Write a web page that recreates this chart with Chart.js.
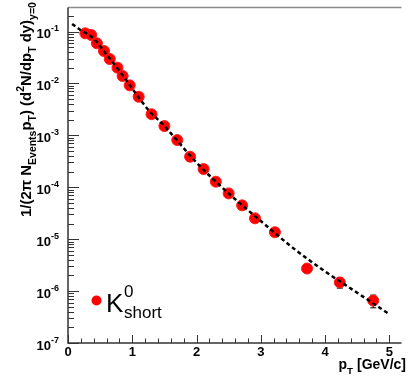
<!DOCTYPE html>
<html>
<head>
<meta charset="utf-8">
<script src="https://cdn.jsdelivr.net/npm/chart.js@4.4.0/dist/chart.umd.min.js"></script>
<style>
  body { margin: 0; background: #fff; }
  #wrap { width: 408px; height: 379px; }
</style>
</head>
<body>
<div id="wrap"><canvas id="myChart" width="408" height="379"></canvas></div>
<script>
// K0 short spectrum : points
const ptValeurs = [0.27, 0.36, 0.45, 0.56, 0.65, 0.77, 0.85, 0.96, 1.1, 1.3, 1.5, 1.7, 1.9, 2.11, 2.3, 2.5, 2.71, 2.91, 3.22, 3.72, 4.23, 4.75];
const rendement = [0.0923, 0.0857, 0.0593, 0.0421, 0.0295, 0.0201, 0.0139, 0.00918, 0.00554, 0.00255, 0.00151,
    8.11e-4, 3.87e-4, 2.24e-4, 1.28e-4, 7.62e-5, 4.48e-5, 2.52e-5, 1.36e-5, 2.72e-6, 1.47e-6, 6.56e-7];
const erreurs = [0, 0, 0, 0, 0, 0, 0, 0, 0, 0, 0, 0, 0, 0, 0, 0, 0, 0, 0, 0, 3.3e-7, 1.8e-7];

// courbe de fit (pointillés)
const fitPt = [0.064, 0.2, 0.4, 0.6, 0.8, 1.0, 1.25, 1.5, 2.0, 2.5, 3.0, 3.5, 4.0, 4.5, 5.0];
const fitY = [0.14, 0.106, 0.0728, 0.0359, 0.0175, 0.00794, 0.0031, 0.00151, 2.99e-4, 7.6e-5, 2.24e-5, 6.8e-6, 2.4e-6, 9.3e-7, 3.6e-7];

const xTicks = [0, 1, 2, 3, 4, 5];
const yExposants = [-1, -2, -3, -4, -5, -6, -7];

const police = '"Liberation Sans", Arial, sans-serif';
const couleurAxe = '#333';

// dessine une suite de morceaux de texte (normal / indice / exposant)
function largeurMorceaux(ctx, morceaux, taille) {
    let l = 0;
    morceaux.forEach(m => {
        ctx.font = 'bold ' + (m.pos ? taille * 0.7 : taille) + 'px ' + police;
        l += ctx.measureText(m.t).width;
    });
    return l;
}
function dessineMorceaux(ctx, morceaux, x, y, taille) {
    morceaux.forEach(m => {
        const t = m.pos ? taille * 0.7 : taille;
        ctx.font = 'bold ' + t + 'px ' + police;
        let dy = 0;
        if (m.pos === 'sub') dy = taille * 0.35;
        if (m.pos === 'sup') dy = -taille * 0.45;
        ctx.fillText(m.t, x, y + dy);
        x += ctx.measureText(m.t).width;
    });
}

const pluginAxes = {
    id: 'axesRoot',
    beforeDatasetsDraw(chart) {
        const ctx = chart.ctx;
        const sx = chart.scales.x, sy = chart.scales.y;
        // barres d'erreur
        ctx.save();
        ctx.strokeStyle = '#000';
        ctx.lineWidth = 1;
        for (let i = 0; i < ptValeurs.length; i++) {
            if (!erreurs[i]) continue;
            const px = sx.getPixelForValue(ptValeurs[i]);
            const haut = sy.getPixelForValue(rendement[i] + erreurs[i]);
            const bas = sy.getPixelForValue(rendement[i] - erreurs[i]);
            ctx.beginPath();
            ctx.moveTo(px, haut); ctx.lineTo(px, bas);
            ctx.moveTo(px - 3, haut); ctx.lineTo(px + 3, haut);
            ctx.moveTo(px - 3, bas); ctx.lineTo(px + 3, bas);
            ctx.stroke();
        }
        ctx.restore();
    },
    afterDraw(chart) {
        const ctx = chart.ctx;
        const a = chart.chartArea;
        const sx = chart.scales.x, sy = chart.scales.y;
        ctx.save();

        // cadre du haut (gris)
        ctx.strokeStyle = '#8a8a8a';
        ctx.lineWidth = 1.5;
        ctx.beginPath();
        ctx.moveTo(a.left, a.top); ctx.lineTo(a.right, a.top);
        ctx.stroke();

        // axes
        ctx.strokeStyle = couleurAxe;
        ctx.lineWidth = 1.5;
        ctx.beginPath();
        ctx.moveTo(a.left, a.top); ctx.lineTo(a.left, a.bottom); ctx.lineTo(a.right, a.bottom);
        ctx.stroke();

        // graduations x
        ctx.lineWidth = 1;
        ctx.beginPath();
        for (let v = 0; v <= 5.19; v += 0.2) {
            const px = Math.round(sx.getPixelForValue(v)) + 0.5;
            const majeur = Math.abs(v - Math.round(v)) < 1e-6;
            ctx.moveTo(px, a.bottom);
            ctx.lineTo(px, a.bottom - (majeur ? 8 : 4.5));
        }
        // graduations y
        for (let e = -7; e <= 0; e++) {
            for (let k = 1; k <= 9; k++) {
                const v = k * Math.pow(10, e);
                if (v < 1e-7 || v > sy.max) continue;
                const py = Math.round(sy.getPixelForValue(v)) + 0.5;
                ctx.moveTo(a.left, py);
                ctx.lineTo(a.left + (k === 1 ? 11 : 6), py);
            }
        }
        ctx.stroke();

        ctx.fillStyle = '#000';
        // étiquettes x
        ctx.font = 'bold 13px ' + police;
        ctx.textAlign = 'center';
        ctx.textBaseline = 'alphabetic';
        xTicks.forEach(v => {
            ctx.fillText(String(v), sx.getPixelForValue(v), 356);
        });

        // étiquettes y : 10^n
        ctx.textAlign = 'left';
        yExposants.forEach(e => {
            const py = sy.getPixelForValue(Math.pow(10, e));
            ctx.font = 'bold 13px ' + police;
            const l10 = ctx.measureText('10').width;
            ctx.fillText('10', 51 - l10, py + 6.5);
            ctx.font = 'bold 9px ' + police;
            ctx.fillText(String(e), 51, py - 0.5);
        });

        // titre x
        const titreX = [{t: 'p'}, {t: 'T', pos: 'sub'}, {t: ' [GeV/c]'}];
        const lx = largeurMorceaux(ctx, titreX, 14);
        dessineMorceaux(ctx, titreX, 406 - lx, 369, 14);

        // titre y (vertical)
        const titreY = [{t: '1/(2\u03c0 N'}, {t: 'Events', pos: 'sub'}, {t: 'p'}, {t: 'T', pos: 'sub'},
            {t: ') (d'}, {t: '2', pos: 'sup'}, {t: 'N/dp'}, {t: 'T', pos: 'sub'}, {t: ' dy)'}, {t: 'y=0', pos: 'sub'}];
        let taille = 13.5;
        const ly = largeurMorceaux(ctx, titreY, taille);
        taille = taille * 215 / ly;
        ctx.save();
        ctx.translate(31, 217);
        ctx.rotate(-Math.PI / 2);
        dessineMorceaux(ctx, titreY, 0, 0, taille);
        ctx.restore();

        // légende
        ctx.fillStyle = '#ff0000';
        ctx.beginPath();
        ctx.arc(96.5, 300.5, 5, 0, Math.PI * 2);
        ctx.fill();
        ctx.fillStyle = '#000';
        ctx.font = '26px ' + police;
        ctx.fillText('K', 106, 312);
        ctx.font = '17px ' + police;
        ctx.fillText('0', 124, 297);
        ctx.fillText('short', 124, 318);

        ctx.restore();
    }
};

const ctx = document.getElementById('myChart').getContext('2d');
const myChart = new Chart(ctx, {
    type: 'scatter',
    data: {
        datasets: [{
            type: 'line',
            label: 'fit',
            data: fitPt.map((x, i) => ({x: x, y: fitY[i]})),
            borderColor: '#000',
            borderWidth: 2.5,
            borderDash: [4, 3],
            pointRadius: 0,
            fill: false,
            cubicInterpolationMode: 'monotone',
            order: 0
        }, {
            label: 'K0 short',
            data: ptValeurs.map((x, i) => ({x: x, y: rendement[i]})),
            backgroundColor: '#ff0000',
            borderColor: '#ff1a1a',
            borderWidth: 1,
            pointRadius: 5.5,
            order: 1
        }]
    },
    options: {
        responsive: false,
        animation: false,
        layout: { padding: { left: 68, top: 7.5, right: 0, bottom: 36 } },
        plugins: { legend: { display: false }, tooltip: { enabled: false } },
        scales: {
            x: { type: 'linear', min: 0, max: 5.19, display: false },
            y: { type: 'logarithmic', min: 1e-7, max: 0.29, display: false }
        }
    },
    plugins: [pluginAxes]
});
</script>
</body>
</html>
